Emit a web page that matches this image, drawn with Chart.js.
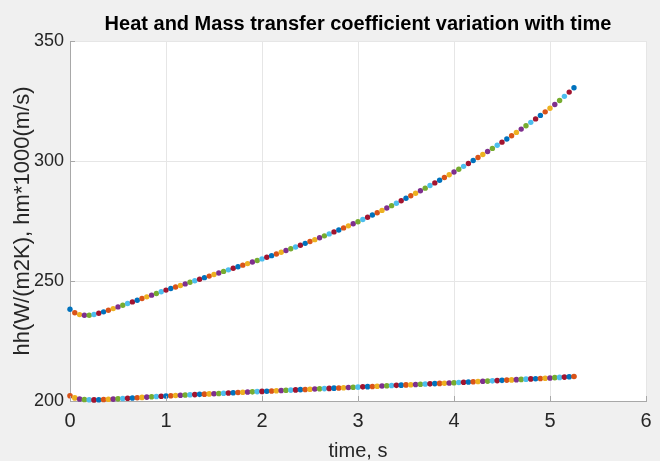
<!DOCTYPE html>
<html>
<head>
<meta charset="utf-8">
<script src="https://cdn.jsdelivr.net/npm/chart.js@4.4.1/dist/chart.umd.min.js"></script>
<style>
  html, body { margin: 0; padding: 0; background: #f0f0f0; }
  #wrap { width: 660px; height: 461px; }
</style>
</head>
<body>
<div id="wrap"><canvas id="c" width="660" height="461"></canvas></div>
<script>
const chartTitle = 'Heat and Mass transfer coefficient variation with time';
const xLabel = 'time, s';
const yLabel = 'hh(W/(m2K), hm*1000(m/s)';
const xTicks = [0, 1, 2, 3, 4, 5, 6];
const yTicks = [200, 250, 300, 350];

const time = [
  0, 0.05, 0.1, 0.15, 0.2, 0.25, 0.3, 0.35, 0.4, 0.45, 0.5, 0.55, 0.6, 0.65, 0.7, 0.75, 0.8, 0.85, 0.9, 0.95,
  1, 1.05, 1.1, 1.15, 1.2, 1.25, 1.3, 1.35, 1.4, 1.45, 1.5, 1.55, 1.6, 1.65, 1.7, 1.75, 1.8, 1.85, 1.9, 1.95,
  2, 2.05, 2.1, 2.15, 2.2, 2.25, 2.3, 2.35, 2.4, 2.45, 2.5, 2.55, 2.6, 2.65, 2.7, 2.75, 2.8, 2.85, 2.9, 2.95,
  3, 3.05, 3.1, 3.15, 3.2, 3.25, 3.3, 3.35, 3.4, 3.45, 3.5, 3.55, 3.6, 3.65, 3.7, 3.75, 3.8, 3.85, 3.9, 3.95,
  4, 4.05, 4.1, 4.15, 4.2, 4.25, 4.3, 4.35, 4.4, 4.45, 4.5, 4.55, 4.6, 4.65, 4.7, 4.75, 4.8, 4.85, 4.9, 4.95,
  5, 5.05, 5.1, 5.15, 5.2, 5.25
];

const hh = [
  238.2, 236.8, 236.0, 235.7, 235.75, 236.05, 236.55, 237.15, 237.8, 238.5, 239.2, 239.9, 240.6, 241.3, 242.0, 242.7, 243.4, 244.1, 244.8, 245.5,
  246.2, 246.85, 247.5, 248.15, 248.8, 249.45, 250.1, 250.75, 251.4, 252.05, 252.7, 253.35, 254.0, 254.65, 255.3, 255.95, 256.6, 257.25, 257.9, 258.55,
  259.2, 259.88, 260.57, 261.27, 261.98, 262.7, 263.43, 264.17, 264.92, 265.68, 266.45, 267.23, 268.02, 268.82, 269.63, 270.45, 271.28, 272.12, 272.97, 273.83,
  274.7, 275.62, 276.55, 277.49, 278.45, 279.42, 280.4, 281.39, 282.4, 283.42, 284.45, 285.49, 286.54, 287.61, 288.69, 289.78, 290.88, 292.0, 293.13, 294.27,
  295.42, 296.59, 297.78, 298.98, 300.2, 301.44, 302.69, 303.96, 305.24, 306.54, 307.86, 309.19, 310.54, 311.91, 313.29, 314.69, 316.11, 317.55, 319.0, 320.47,
  321.95, 323.55, 325.22, 326.94, 328.7, 330.5
];

const hm = [
  202.2, 201.3, 200.85, 200.6, 200.5, 200.45, 200.5, 200.6, 200.7, 200.8, 200.9, 201.02, 201.14, 201.26, 201.38, 201.5, 201.62, 201.74, 201.86, 201.98,
  202.1, 202.2, 202.29, 202.39, 202.48, 202.58, 202.67, 202.77, 202.86, 202.96, 203.05, 203.15, 203.24, 203.34, 203.43, 203.53, 203.62, 203.72, 203.81, 203.91,
  204.0, 204.09, 204.18, 204.27, 204.36, 204.45, 204.54, 204.63, 204.72, 204.81, 204.9, 204.99, 205.08, 205.17, 205.26, 205.35, 205.44, 205.53, 205.62, 205.71,
  205.8, 205.89, 205.98, 206.07, 206.16, 206.25, 206.34, 206.43, 206.52, 206.61, 206.7, 206.79, 206.88, 206.97, 207.06, 207.15, 207.24, 207.33, 207.42, 207.51,
  207.6, 207.7, 207.8, 207.9, 208.0, 208.1, 208.2, 208.3, 208.4, 208.5, 208.6, 208.7, 208.8, 208.9, 209.0, 209.1, 209.2, 209.3, 209.4, 209.5,
  209.6, 209.72, 209.84, 209.96, 210.08, 210.2
];

// MATLAB default colour order, cycled point by point
const palette = ['#0072BD', '#D95319', '#EDB120', '#7E2F8E', '#77AC30', '#4DBEEE', '#A2142F'];
const cyc = (n, offset) => Array.from({length: n}, (_, i) => palette[(i + offset) % palette.length]);

const toXY = (ys) => time.map((t, i) => ({x: t, y: ys[i]}));

const bgPlugin = {
  id: 'plotBg',
  beforeDraw(chart) {
    const {ctx, chartArea: a} = chart;
    ctx.save();
    ctx.fillStyle = '#f0f0f0';
    ctx.fillRect(0, 0, chart.width, chart.height);
    ctx.fillStyle = '#ffffff';
    ctx.fillRect(a.left, a.top, a.right - a.left, a.bottom - a.top);
    ctx.restore();
  }
};

const innerTicks = {
  id: 'innerTicks',
  afterDatasetsDraw(chart) {
    const {ctx, chartArea: a, scales} = chart;
    ctx.save();
    ctx.strokeStyle = '#a8a8a8';
    ctx.lineWidth = 1;
    ctx.beginPath();
    scales.x.ticks.forEach((t) => {
      const px = Math.round(scales.x.getPixelForValue(t.value)) + 0.5;
      ctx.moveTo(px, a.bottom); ctx.lineTo(px, a.bottom - 5);
    });
    scales.y.ticks.forEach((t) => {
      const py = Math.round(scales.y.getPixelForValue(t.value)) + 0.5;
      ctx.moveTo(a.left, py); ctx.lineTo(a.left + 5, py);
    });
    ctx.stroke();
    ctx.restore();
  }
};

const sans = '"Liberation Sans", Arial, sans-serif';

new Chart(document.getElementById('c'), {
  type: 'scatter',
  data: {
    datasets: [
      {
        label: 'hm',
        data: toXY(hm),
        pointRadius: 2.8,
        pointBorderWidth: 0,
        pointBackgroundColor: cyc(hm.length, 1),
        pointBorderColor: cyc(hm.length, 1),
        showLine: false,
        clip: false
      },
      {
        label: 'hh',
        data: toXY(hh),
        pointRadius: 2.7,
        pointBorderWidth: 0,
        pointBackgroundColor: cyc(hh.length, 0),
        pointBorderColor: cyc(hh.length, 0),
        showLine: false,
        clip: false
      }
    ]
  },
  options: {
    responsive: false,
    animation: false,
    layout: { padding: { left: 0, right: 14, top: 0, bottom: 0 } },
    plugins: {
      legend: { display: false },
      tooltip: { enabled: false },
      title: {
        display: true,
        fullSize: false,
        text: chartTitle,
        color: '#000000',
        font: { family: sans, size: 20, weight: 'bold', lineHeight: 1.2 },
        padding: { top: 12, bottom: 5 }
      }
    },
    scales: {
      x: {
        type: 'linear',
        min: 0, max: 6,
        afterBuildTicks: (s) => { s.ticks = xTicks.map(v => ({value: v})); },
        afterFit: (s) => { s.height = 60; },
        border: { display: true, color: '#a8a8a8', width: 1 },
        grid: { color: '#e6e6e6', drawTicks: false, lineWidth: 1 },
        ticks: { color: '#262626', font: { family: sans, size: 20 }, padding: 8 },
        title: {
          display: true, text: xLabel, color: '#262626',
          font: { family: sans, size: 20, lineHeight: 1 },
          padding: { top: 0, bottom: 0 }
        }
      },
      y: {
        type: 'linear',
        min: 200, max: 350,
        afterBuildTicks: (s) => { s.ticks = yTicks.map(v => ({value: v})); },
        afterFit: (s) => { s.width = 70; },
        border: { display: true, color: '#a8a8a8', width: 1 },
        grid: { color: '#e6e6e6', drawTicks: false, lineWidth: 1 },
        ticks: { color: '#262626', font: { family: sans, size: 18 }, padding: 6 },
        title: {
          display: true, text: yLabel, color: '#262626',
          font: { family: sans, size: 22, lineHeight: 1 },
          padding: { top: 12, bottom: 0 }
        }
      }
    }
  },
  plugins: [bgPlugin, innerTicks]
});
</script>
</body>
</html>
